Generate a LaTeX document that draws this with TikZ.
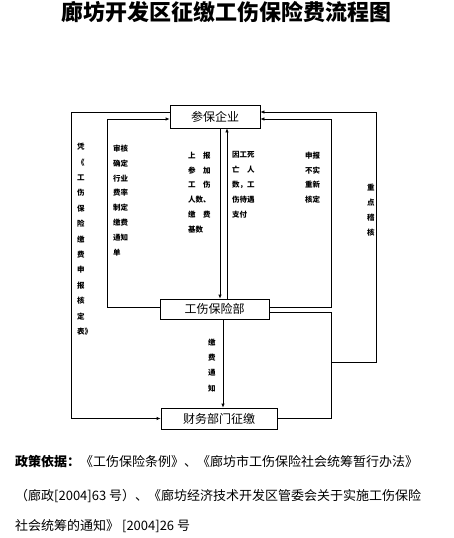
\documentclass[tikz,border=0pt]{standalone}
\usepackage{fontspec}
\setmainfont{Noto Sans CJK SC}
\usetikzlibrary{arrows.meta}
\tikzset{box/.style = {draw=black,line width=0.7pt,inner sep=0pt,font=\fontsize{12}{12}\selectfont}}
\tikzset{arrow/.style = {-{Latex[length=4pt,width=3.5pt]},line width=0.7pt}}
\tikzset{line/.style = {line width=0.7pt}}
\tikzset{note/.style = {anchor=north west,inner sep=0pt,align=left,font=\fontsize{7.5}{14.9}\selectfont\bfseries}}
\tikzset{policy/.style = {anchor=west,inner sep=0pt,font=\fontsize{13}{13}\selectfont}}

\begin{document}
\begin{tikzpicture}[x=1pt,y=-1pt]
	\useasboundingbox (0,0) rectangle (453,538);
	\node[font=\fontsize{22}{22}\selectfont\bfseries] (title) at (226,12) {廊坊开发区征缴工伤保险费流程图};
	% boxes
	\node[box,minimum width=90pt,minimum height=23pt] (qy) at (215,116.5) {参保企业};
	\node[box,minimum width=109pt,minimum height=20pt] (gs) at (214.5,309) {工伤保险部};
	\node[box,minimum width=116pt,minimum height=21pt] (cw) at (219,418.5) {财务部门征缴};
	% corners
	\coordinate (lout) at (71,112);
	\coordinate (lin) at (107,307);
	\coordinate (rin) at (331,307);
	\coordinate (rlow) at (331,312);
	\coordinate (rbr) at (331,362);
	\coordinate (rout) at (376,362);
	% connectors
	\draw[arrow] ([xshift=5pt]qy.south) -- ([xshift=5pt]qy.south |- gs.north);
	\draw[arrow] ([xshift=12pt]qy.south |- gs.north) -- ([xshift=12pt]qy.south);
	\draw[arrow] ([xshift=8.5pt]gs.south) -- ([xshift=8.5pt]gs.south |- cw.north);
	\draw[arrow] ([yshift=4.5pt]qy.west) -- (lout) |- (cw.west);
	\draw[arrow] ([yshift=2pt]gs.west) -- (lin) |- ([yshift=-2.5pt]qy.west);
	\draw[arrow] ([yshift=2pt]gs.east) -- (rin) |- ([yshift=-2.5pt]qy.east);
	\draw[line] ([yshift=-3pt]gs.east) -- (rlow) |- (cw.east);
	\draw[arrow] (rbr) -- (rout) |- ([yshift=4.5pt]qy.east);
	% labels
	\node[note,font=\fontsize{7.5}{15.4}\selectfont\bfseries] (hd) at (77,143) {凭\\《\\工\\伤\\保\\险\\缴\\费\\申\\报\\核\\定\\表》};
	\node[note] (sh) at (113,144.5) {审核\\确定\\行业\\费率\\制定\\缴费\\通知\\单};
	\node[note] (sb) at (188,151.5) {上　报\\参　加\\工　伤\\人数、\\缴　费\\基数};
	\node[note] (yg) at (232,151.5) {因工死\\亡　人\\数，工\\伤待遇\\支付};
	\node[note] (bs) at (305,151.5) {申报\\不实\\重新\\核定};
	\node[note,font=\fontsize{7.5}{15}\selectfont\bfseries] (zd) at (367,183.5) {重\\点\\稽\\核};
	\node[note,font=\fontsize{7.5}{15.3}\selectfont\bfseries] (jf) at (208,338.5) {缴\\费\\通\\知};
	% policy text
	\node[policy] (pol1) at (15,462) {\textbf{政策依据：}《工伤保险条例》、《廊坊市工伤保险社会统筹暂行办法》};
	\node[policy] (pol2) at (15,496) {（廊政[2004]63 号）、《廊坊经济技术开发区管委会关于实施工伤保险};
	\node[policy] (pol3) at (15,526) {社会统筹的通知》 [2004]26 号};
\end{tikzpicture}
\end{document}
